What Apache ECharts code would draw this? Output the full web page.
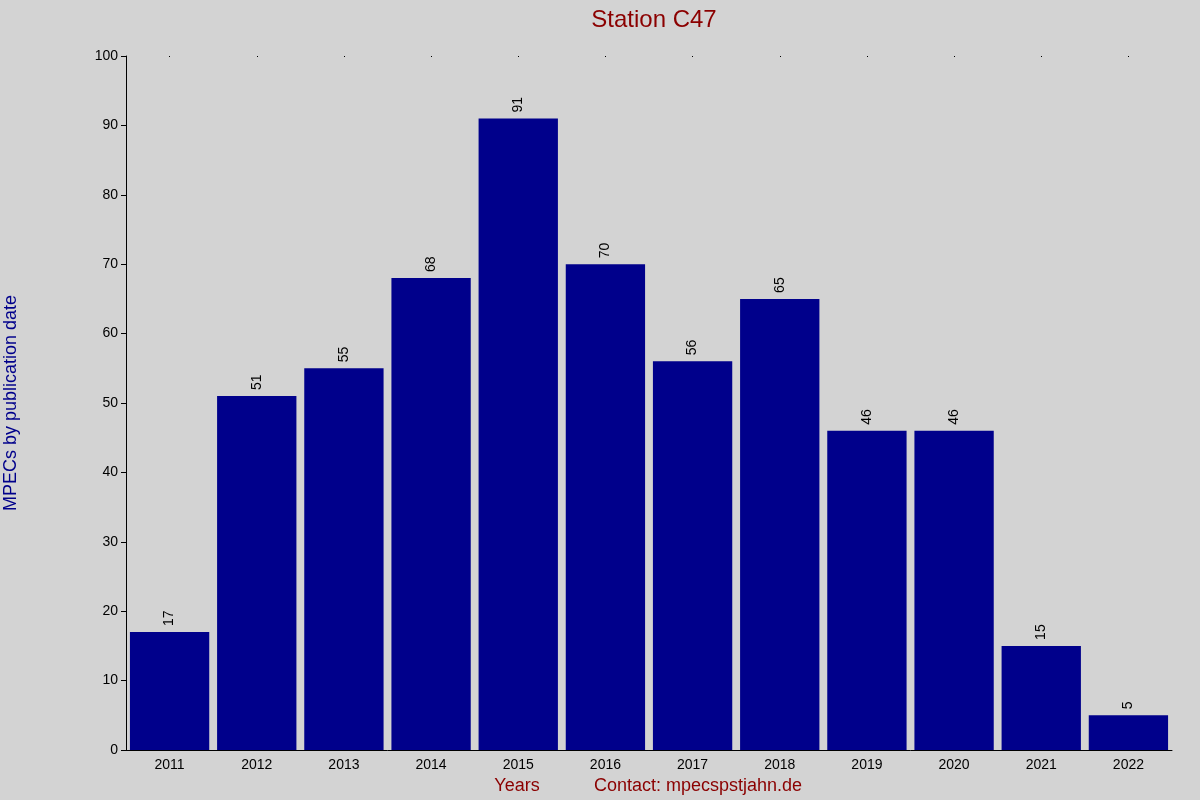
<!DOCTYPE html>
<html><head><meta charset="utf-8">
<script src="https://cdn.jsdelivr.net/npm/echarts@6/dist/echarts.min.js"></script>
<style>html,body{margin:0;padding:0;background:#d3d3d3}#c{width:1200px;height:800px}</style>
</head><body><div id="c"></div>
<script>
const years = ['2011','2012','2013','2014','2015','2016','2017','2018','2019','2020','2021','2022'];
const counts = [17,51,55,68,91,70,56,65,46,46,15,5];
const chart = echarts.init(document.getElementById('c'));
const font = 'Liberation Sans, Arial, sans-serif';
chart.setOption({
  backgroundColor:'#d3d3d3',
  animation:false,
  title:{text:'Station C47',left:649,top:3,textAlign:'center',textStyle:{color:'#8b0000',fontSize:24,fontWeight:'normal',fontFamily:font}},
  grid:{left:126,right:28,top:56,bottom:50},
  xAxis:[{type:'category',data:years,axisLine:{lineStyle:{color:'#000'}},axisTick:{show:false},
    axisLabel:{color:'#000',fontSize:14,fontFamily:font,margin:8}},
    {type:'category',data:years,position:'top',axisLine:{show:false},axisLabel:{show:false},
    axisTick:{show:true,alignWithLabel:true,length:1,inside:true,lineStyle:{color:'#000'}}}],
  yAxis:{type:'value',min:0,max:100,interval:10,splitLine:{show:false},
    axisLine:{show:true,lineStyle:{color:'#000'}},axisTick:{show:true,length:5,lineStyle:{color:'#000'}},
    axisLabel:{color:'#000',fontSize:14,fontFamily:font,margin:8}},
  series:[{type:'bar',data:counts,barCategoryGap:'9%',itemStyle:{color:'#00008b'},
    label:{show:true,position:'top',rotate:90,align:'left',verticalAlign:'middle',distance:6,color:'#000',fontSize:14,fontFamily:font}}],
  graphic:[
    {type:'text',left:'center',x:0,style:{text:''}},
    {type:'text',x:11,y:403,rotation:Math.PI/2,style:{text:'MPECs by publication date',fill:'#00008b',fontSize:18,fontFamily:font,align:'center',verticalAlign:'middle'}},
    {type:'text',x:517,y:786,style:{text:'Years',fill:'#8b0000',fontSize:18,fontFamily:font,align:'center',verticalAlign:'middle'}},
    {type:'text',x:698,y:786,style:{text:'Contact: mpecspstjahn.de',fill:'#8b0000',fontSize:18,fontFamily:font,align:'center',verticalAlign:'middle'}}
  ]
});
</script></body></html>
